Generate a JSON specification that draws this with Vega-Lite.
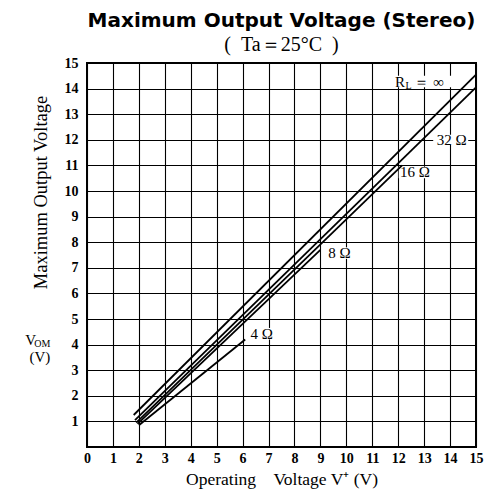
{
  "$schema": "https://vega.github.io/schema/vega-lite/v6.json",
  "width": 389,
  "height": 384,
  "autosize": {"type": "none"},
  "padding": {"left": 87, "top": 63, "right": 12, "bottom": 49},
  "background": "white",
  "title": {
    "text": "Maximum Output Voltage (Stereo)",
    "subtitle": "(\u2002Ta＝25°C\u2002)",
    "font": "DejaVu Sans",
    "fontSize": 20,
    "fontWeight": "bold",
    "color": "black",
    "subtitleFont": "Liberation Serif",
    "subtitleFontSize": 20,
    "subtitleColor": "black",
    "anchor": "middle",
    "offset": 1,
    "subtitlePadding": 4
  },
  "config": {
    "view": {"stroke": "black", "strokeWidth": 2},
    "font": "Liberation Serif"
  },
  "datasets": {
    "curves": [
      {"load": "inf", "x": 1.8, "y": 1.25},
      {"load": "inf", "x": 15, "y": 14.55},
      {"load": "32", "x": 1.85, "y": 1.05},
      {"load": "32", "x": 15, "y": 14.05},
      {"load": "16", "x": 1.9, "y": 0.95},
      {"load": "16", "x": 12.15, "y": 11.0},
      {"load": "8", "x": 1.95, "y": 0.9},
      {"load": "8", "x": 9.0, "y": 7.7},
      {"load": "4", "x": 2.0, "y": 0.85},
      {"load": "4", "x": 6.1, "y": 4.2}
    ],
    "boxes": [
      {"x": 11.8, "x2": 14.15, "y": 14.05, "y2": 14.5},
      {"x": 13.35, "x2": 14.7, "y": 11.8, "y2": 12.2},
      {"x": 12.02, "x2": 13.25, "y": 10.5, "y2": 10.95},
      {"x": 9.22, "x2": 10.15, "y": 7.35, "y2": 7.8},
      {"x": 6.22, "x2": 7.15, "y": 4.2, "y2": 4.65}
    ],
    "labels": [
      {"t": "R", "x": 11.88, "y": 14.27},
      {"t": "＝", "x": 12.6, "y": 14.27},
      {"t": "∞", "x": 13.35, "y": 14.27},
      {"t": "32 Ω", "x": 13.49, "y": 12.0},
      {"t": "16 Ω", "x": 12.07, "y": 10.73},
      {"t": "8 Ω", "x": 9.3, "y": 7.57},
      {"t": "4 Ω", "x": 6.3, "y": 4.43},
      {"t": "V", "x": -2.38, "y": 4.19},
      {"t": "(V)", "x": -2.22, "y": 3.53}
    ],
    "subs": [
      {"t": "L", "x": 12.28, "y": 14.27},
      {"t": "OM", "x": -2.03, "y": 4.19}
    ]
  },
  "encoding": {
    "x": {
      "field": "x", "type": "quantitative",
      "scale": {"domain": [0, 15], "nice": false},
      "axis": {
        "title": "Operating\u2003Voltage V⁺ (V)",
        "values": [0,1,2,3,4,5,6,7,8,9,10,11,12,13,14,15],
        "tickCount": 16,
        "grid": true, "gridColor": "black", "gridWidth": 1.1, "gridOpacity": 1,
        "ticks": false, "domain": false,
        "labelFont": "Liberation Serif", "labelFontSize": 14, "labelFontWeight": "bold",
        "labelColor": "black", "labelPadding": 4, "labelAngle": 0, "labelFlush": false,
        "labelOverlap": false, "labelBound": false,
        "titleFont": "Liberation Serif", "titleFontSize": 17.5, "titleFontWeight": "normal",
        "titleColor": "black", "titlePadding": 5
      }
    },
    "y": {
      "field": "y", "type": "quantitative",
      "scale": {"domain": [0, 15], "nice": false},
      "axis": {
        "title": "Maximum Output Voltage",
        "values": [1,2,3,4,5,6,7,8,9,10,11,12,13,14,15],
        "tickCount": 15,
        "grid": true, "gridColor": "black", "gridWidth": 1.1, "gridOpacity": 1,
        "ticks": false, "domain": false,
        "labelFont": "Liberation Serif", "labelFontSize": 14, "labelFontWeight": "bold",
        "labelColor": "black", "labelPadding": 9, "labelFlush": false, "labelOverlap": false,
        "labelBound": false,
        "titleFont": "Liberation Serif", "titleFontSize": 18.5, "titleFontWeight": "normal",
        "titleColor": "black", "titleAngle": 270, "titleX": -47, "titleY": 129,
        "titleAlign": "center", "titleBaseline": "middle"
      }
    }
  },
  "layer": [
    {
      "data": {"name": "boxes"},
      "mark": {"type": "rect", "fill": "white"},
      "encoding": {
        "x2": {"field": "x2"},
        "y2": {"field": "y2"}
      }
    },
    {
      "data": {"name": "curves"},
      "mark": {"type": "line", "color": "black", "strokeWidth": 1.8},
      "encoding": {
        "detail": {"field": "load", "type": "nominal"}
      }
    },
    {
      "data": {"name": "labels"},
      "mark": {"type": "text", "align": "left", "baseline": "middle", "font": "Liberation Serif", "fontSize": 15, "color": "black"},
      "encoding": {
        "text": {"field": "t"}
      }
    },
    {
      "data": {"name": "subs"},
      "mark": {"type": "text", "align": "left", "baseline": "middle", "font": "Liberation Serif", "fontSize": 10, "dy": 4, "color": "black"},
      "encoding": {
        "text": {"field": "t"}
      }
    }
  ]
}
